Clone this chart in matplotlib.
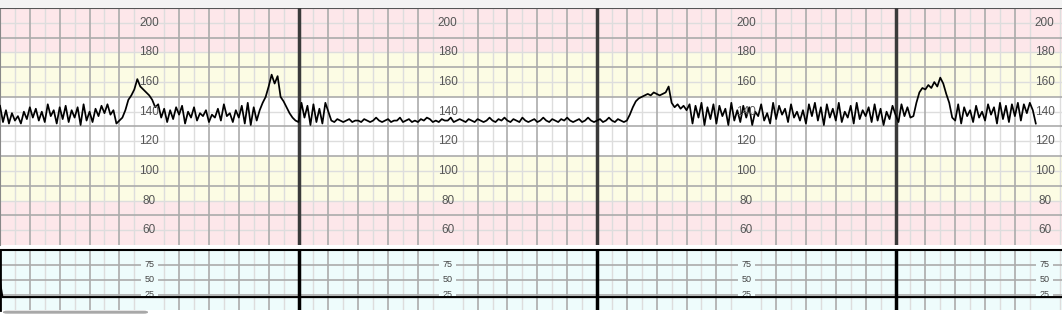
import numpy as np
import matplotlib.pyplot as plt
from matplotlib.patches import FancyBboxPatch

# fetal heart rate, one value every 0.1 min (each row = 1 minute)
fhr = [
    144, 133, 141, 132, 139, 134, 137, 132, 140, 135,
    143, 136, 142, 134, 140, 133, 145, 137, 141, 132,
    143, 135, 144, 133, 141, 136, 143, 131, 145, 134,
    140, 133, 142, 137, 144, 139, 145, 138, 141, 132,
    134, 136, 141, 148, 151, 155, 162, 157, 155, 153,
    151, 148, 143, 145, 136, 142, 133, 141, 135, 143,
    138, 144, 132, 140, 136, 143, 134, 139, 137, 141,
    133, 138, 136, 142, 134, 145, 137, 139, 133, 141,
    136, 144, 132, 146, 131, 143, 134, 141, 146, 150,
    157, 165, 159, 164, 150, 147, 143, 139, 136, 134,
    133, 146, 136, 144, 131, 145, 133, 142, 132, 146,
    140, 134, 133, 135, 134, 133, 134, 135, 133, 134,
    134, 133, 135, 134, 133, 134, 136, 134, 133, 134,
    135, 133, 134, 134, 136, 133, 134, 135, 133, 134,
    133, 135, 134, 136, 135, 133, 134, 133, 135, 134,
    134, 136, 133, 134, 135, 134, 133, 135, 134, 133,
    135, 134, 133, 134, 136, 134, 133, 135, 134, 136,
    134, 133, 135, 134, 133, 136, 134, 133, 134, 135,
    133, 134, 136, 134, 133, 135, 134, 133, 135, 134,
    136, 134, 133, 134, 135, 133, 134, 136, 134, 133,
    134, 135, 133, 134, 136, 134, 133, 135, 134, 133,
    134, 138, 143, 147, 149, 150, 151, 152, 151, 153,
    152, 151, 152, 153, 157, 146, 143, 145, 142, 144,
    141, 145, 132, 144, 136, 146, 131, 143, 135, 145,
    132, 144, 137, 142, 131, 146, 134, 141, 133, 144,
    136, 143, 131, 140, 137, 145, 134, 139, 132, 146,
    135, 144, 138, 142, 133, 145, 136, 140, 134, 141,
    132, 145, 137, 146, 134, 143, 131, 145, 136, 142,
    134, 146, 133, 140, 136, 144, 132, 146, 135, 141,
    137, 143, 133, 145, 134, 142, 131, 140, 135, 144,
    138, 133, 145, 137, 143, 136, 137, 146, 153, 156,
    155, 158, 156, 160, 157, 163, 159, 152, 146, 136,
    134, 145, 132, 143, 137, 141, 133, 144, 136, 140,
    134, 145, 138, 143, 132, 146, 135, 144, 133, 145,
    137, 146, 134, 145, 139, 146, 141, 132,
]
fhr_t = np.arange(len(fhr)) * 0.1

# uterine activity (toco)
toco_t = [0, 0.08, 10, 20, 30, 35.6]
toco = [45, 21, 21, 21, 21, 21]

fhr_labels = [60, 80, 100, 120, 140, 160, 180, 200]
toco_labels = [25, 50, 75]
label_cols = [5, 15, 25, 35]

pink = "#fde7ea"
yellow = "#fcfce4"
cyan = "#eefcfc"
major = "#ababab"
minor = "#dddddd"

xmax = 1062 / 29.85

fig = plt.figure(figsize=(10.62, 3.14), dpi=100)
fig.patch.set_facecolor("white")
fig.patches.append(plt.Rectangle((0, 1 - 7.5 / 314), 1, 7.5 / 314, transform=fig.transFigure,
                                 facecolor="#f3f3f3", edgecolor="none"))
ax = fig.add_axes([0, 1 - 245 / 314, 1, 237 / 314])
ax2 = fig.add_axes([0, 1 - 309.6 / 314, 1, 59.6 / 314])

# colour bands
ax.axhspan(180, 210, color=pink, lw=0)
ax.axhspan(150, 180, color=yellow, lw=0)
ax.axhspan(80, 110, color=yellow, lw=0)
ax.axhspan(50, 80, color=pink, lw=0)
ax2.set_facecolor(cyan)

for a, lo, hi in [(ax, 50, 210), (ax2, 0, 100)]:
    a.set_xlim(0, xmax)
    a.set_ylim(lo, hi)
    a.set_xticks([])
    a.set_yticks([])
    for k in range(1, int(xmax * 2) + 1):
        t = k * 0.5
        if k % 2 == 1:
            a.axvline(t, color=minor, lw=1, zorder=1)
        elif k % 20 == 0:
            a.axvline(t, color="#3a3a3a" if a is ax else "black", lw=2.5, zorder=3)
        elif k % 20 != 10:
            a.axvline(t, color=major, lw=1.2, zorder=2)

for v in range(60, 210, 20):
    ax.axhline(v, color=minor, lw=1, zorder=1)
for v in range(70, 210, 20):
    ax.axhline(v, color=major, lw=1.2, zorder=2)
for v in [25, 50, 75]:
    ax2.axhline(v, color=major, lw=1.2, zorder=2)

for s in ["right", "bottom"]:
    ax.spines[s].set_visible(False)
ax.spines["top"].set_color("#555555")
ax.spines["top"].set_linewidth(1.5)
ax.spines["left"].set_color("#888888")
ax2.spines["top"].set_color("black")
ax2.spines["top"].set_linewidth(1.5)
ax2.spines["left"].set_color("black")
ax2.spines["left"].set_linewidth(2)
ax2.spines["right"].set_visible(False)
ax2.spines["bottom"].set_visible(False)

ax.plot(fhr_t, fhr, color="black", lw=1.25, zorder=5)
ax2.plot(toco_t, toco, color="black", lw=1.5, zorder=6)

for c in label_cols:
    for v in fhr_labels:
        ax.text(c, v, str(v), ha="center", va="center", fontsize=8.5, color="#555555",
                family="Liberation Sans", zorder=6)
    for v in toco_labels:
        ax2.text(c, v, str(v), ha="center", va="center", fontsize=6.5, color="#444444",
                 family="Liberation Sans", zorder=5,
                 bbox=dict(facecolor=cyan, edgecolor="none", pad=2.5))

# scrollbar at bottom left
fig.patches.append(FancyBboxPatch((3 / 1062, 0.3 / 314), 145 / 1062, 3 / 314,
                                  boxstyle="round,pad=0,rounding_size=0.004",
                                  transform=fig.transFigure, facecolor="#a8a8a8",
                                  edgecolor="none"))

fig.savefig("out.png", dpi=100)
